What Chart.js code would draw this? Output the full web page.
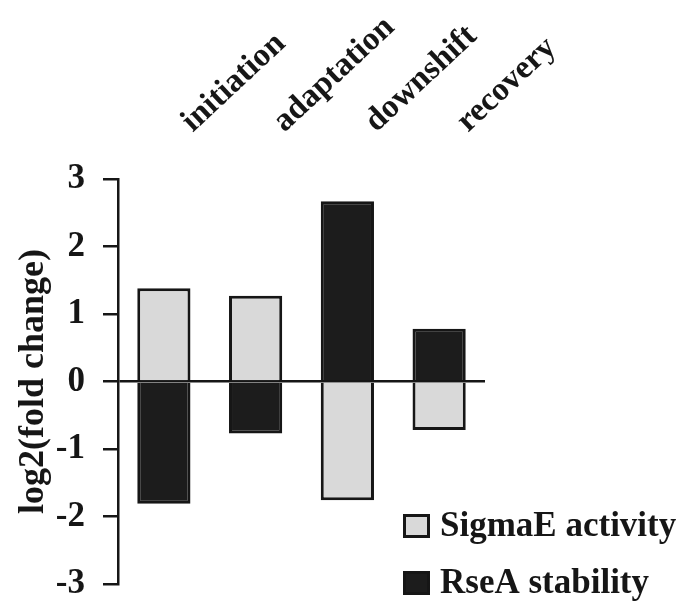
<!DOCTYPE html>
<html>
<head>
<meta charset="utf-8">
<script src="https://cdn.jsdelivr.net/npm/chart.js@4.4.1/dist/chart.umd.min.js"></script>
<style>
  html, body { margin: 0; padding: 0; background: #fff; }
  #wrap { width: 692px; height: 609px; position: relative; }
</style>
</head>
<body>
<div id="wrap"><canvas id="c" width="692" height="609"></canvas></div>
<script>
// ---- data ----
const categories = ['initiation', 'adaptation', 'downshift', 'recovery'];
const seriesNames = ['SigmaE activity', 'RseA stability'];
const sigmaEActivity = [1.38, 1.27, -1.76, -0.72];
const rseAStability = [-1.81, -0.77, 2.67, 0.78];
const yMin = -3;
const yMax = 3;
const yStep = 1;
const yTitle = 'log2(fold change)';

// ---- style ----
const FONT = "'Liberation Serif', 'Times New Roman', serif";
const INK = '#161616';
const LIGHT = '#d9d9d9';
const DARK = '#1c1c1c';

const legendPlugin = {
  id: 'floatLegend',
  afterDraw(chart) {
    const ctx = chart.ctx;
    const items = chart.data.datasets;
    const x0 = 403, boxW = 27, boxH = 24, textX = 440;
    const rows = [526, 583];
    ctx.save();
    ctx.font = 'bold 35px ' + FONT;
    ctx.textBaseline = 'middle';
    ctx.textAlign = 'left';
    items.forEach((ds, i) => {
      const cy = rows[i];
      ctx.fillStyle = ds.borderColor;
      ctx.fillRect(x0, cy - boxH / 2, boxW, boxH);
      ctx.fillStyle = ds.backgroundColor;
      ctx.fillRect(x0 + 3, cy - boxH / 2 + 3, boxW - 6, boxH - 6);
      ctx.fillStyle = INK;
      ctx.fillText(ds.label, textX, cy + 1);
    });
    ctx.restore();
  }
};

const bgPlugin = {
  id: 'bg',
  beforeDraw(chart) {
    const ctx = chart.ctx;
    ctx.save();
    ctx.fillStyle = '#fff';
    ctx.fillRect(0, 0, chart.width, chart.height);
    ctx.restore();
  }
};

new Chart(document.getElementById('c'), {
  type: 'bar',
  data: {
    labels: categories,
    datasets: [
      {
        label: seriesNames[0],
        data: sigmaEActivity,
        backgroundColor: LIGHT,
        borderColor: INK,
        borderWidth: 3,
        borderSkipped: 'start',
        inflateAmount: 0,
        barPercentage: 0.58,
        categoryPercentage: 1.0
      },
      {
        label: seriesNames[1],
        data: rseAStability,
        backgroundColor: DARK,
        borderColor: INK,
        borderWidth: 3,
        borderSkipped: 'start',
        inflateAmount: 0,
        barPercentage: 0.58,
        categoryPercentage: 1.0
      }
    ]
  },
  options: {
    responsive: false,
    animation: false,
    layout: { padding: { left: 0, right: 207, top: 0, bottom: 25 } },
    plugins: {
      legend: { display: false },
      tooltip: { enabled: false },
      title: { display: false }
    },
    scales: {
      x: {
        position: 'top',
        stacked: true,
        grid: { display: false, drawTicks: false },
        border: { display: false },
        ticks: {
          autoSkip: false,
          minRotation: 43,
          maxRotation: 43,
          padding: 38,
          labelOffset: 50,
          color: INK,
          font: { family: FONT, size: 33, weight: 'bold' }
        },
        afterFit(scale) { scale.height = 179; }
      },
      y: {
        stacked: true,
        min: yMin,
        max: yMax,
        border: { display: true, color: INK, width: 2.5 },
        grid: {
          color: (c) => (c.tick && c.tick.value === 0) ? INK : 'rgba(0,0,0,0)',
          lineWidth: 2.5,
          tickColor: INK,
          tickWidth: 2.5,
          tickLength: 15,
          drawTicks: true
        },
        ticks: {
          stepSize: yStep,
          padding: 18,
          color: INK,
          font: { family: FONT, size: 35, weight: 'bold' }
        },
        title: {
          display: true,
          text: yTitle,
          color: INK,
          padding: { top: 12, bottom: 0 },
          font: { family: FONT, size: 36, weight: 'bold' }
        },
        afterFit(scale) {
          scale.width = 118;
          scale.paddingTop = 0;
          scale.paddingBottom = 0;
        }
      }
    }
  },
  plugins: [bgPlugin, legendPlugin]
});
</script>
</body>
</html>
